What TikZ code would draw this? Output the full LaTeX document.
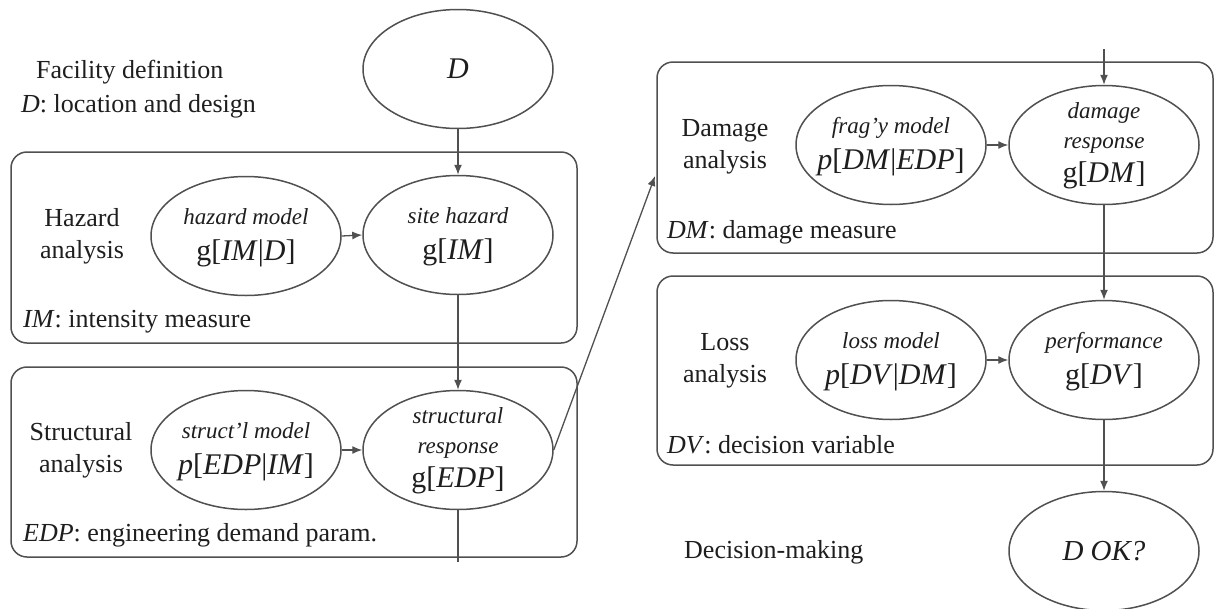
\documentclass[tikz,border=0pt]{standalone}
\usepackage{fontspec}
\setmainfont{Liberation Serif}
\usetikzlibrary{shapes.geometric,arrows.meta}
\definecolor{lineC}{RGB}{80,80,80}
\definecolor{textC}{RGB}{30,30,30}
\newcommand{\lblfont}{\fontsize{26}{32}\selectfont}
\newcommand{\itfont}{\fontsize{23}{29}\selectfont\itshape}
\newcommand{\bigfont}{\fontsize{30}{34}\selectfont\upshape}
\begin{document}
\begin{tikzpicture}[x=1pt,y=-1pt,
  stagebox/.style={draw=lineC, line width=1.5pt, rounded corners=16pt, inner sep=0pt},
  ell/.style={draw=lineC, ellipse, line width=1.5pt, minimum width=190pt, minimum height=119pt, inner sep=0pt},
  inlbl/.style={text=textC, align=center, inner sep=0pt, font=\fontsize{23}{36}\selectfont},
  inlblthree/.style={text=textC, align=center, inner sep=0pt, font=\fontsize{23}{30}\selectfont},
  lbl/.style={text=textC, font=\lblfont, inner sep=0pt},
  mlbl/.style={text=textC, font=\lblfont, align=center, inner sep=0pt},
  arr/.style={draw=lineC, line width=1.3pt, -{Latex[length=10pt,width=8pt]}},
  plain/.style={draw=lineC, line width=1.3pt}]
\useasboundingbox[fill=white] (0,0) rectangle (1215,608);

% stage boxes
\node[stagebox, minimum width=566pt, minimum height=191pt] (hazbox) at (294,247.5) {};
\node[stagebox, minimum width=566pt, minimum height=190pt] (strbox) at (294,462) {};
\node[stagebox, minimum width=556pt, minimum height=191pt] (dambox) at (935,157.5) {};
\node[stagebox, minimum width=556pt, minimum height=189pt] (losbox) at (935,370.5) {};

% ellipses
\node[ell] (D) at (458,69) {};
\node[inlbl, font=\fontsize{30}{34}\selectfont\itshape] (Dt) at (D.center) {D};

\node[ell] (hazmod) at (246,236) {};
\node[inlbl] (hazmodt) at (246,238) {{\itfont hazard model}\\{\bigfont g[\textit{IM}|\textit{D}]}};
\node[ell] (site) at (458,235) {};
\node[inlbl] (sitet) at (458,237) {{\itfont site hazard}\\{\bigfont g[\textit{IM}]}};

\node[ell] (strmod) at (246,450) {};
\node[inlbl] (strmodt) at (246,452) {{\itfont struct'l model}\\{\bigfont \textit{p}[\textit{EDP}|\textit{IM}]}};
\node[ell] (strres) at (458,450) {};
\node[inlblthree] (strrest) at (458,451) {{\itfont structural}\\{\itfont response}\\[4pt]{\bigfont g[\textit{EDP}]}};

\node[ell] (frag) at (891,145) {};
\node[inlbl] (fragt) at (891,147) {{\itfont frag'y model}\\{\bigfont \textit{p}[\textit{DM}|\textit{EDP}]}};
\node[ell] (damres) at (1104,145) {};
\node[inlblthree] (damrest) at (1104,146) {{\itfont damage}\\{\itfont response}\\[4pt]{\bigfont g[\textit{DM}]}};

\node[ell] (losmod) at (891,360) {};
\node[inlbl] (losmodt) at (891,362) {{\itfont loss model}\\{\bigfont \textit{p}[\textit{DV}|\textit{DM}]}};
\node[ell] (perf) at (1104,360) {};
\node[inlbl] (perft) at (1104,362) {{\itfont performance}\\{\bigfont g[\textit{DV}]}};

\node[ell] (dok) at (1104,551) {};
\node[inlbl, font=\fontsize{29}{34}\selectfont\itshape] (dokt) at (dok.center) {D OK?};

% side labels
\node[lbl, anchor=base west] (fac) at (36,78) {Facility definition};
\node[lbl, anchor=base west] (facd) at (21,112) {\textit{D}: location and design};
\node[mlbl] (hazl) at (82,236) {Hazard\\analysis};
\node[lbl, anchor=base west] (iml) at (23,327) {\textit{IM}: intensity measure};
\node[mlbl] (strl) at (81,450) {Structural\\analysis};
\node[lbl, anchor=base west] (edpl) at (23,541) {\textit{EDP}: engineering demand param.};
\node[mlbl] (daml) at (725,147) {Damage\\analysis};
\node[lbl, anchor=base west] (dml) at (667,238) {\textit{DM}: damage measure};
\node[mlbl] (losl) at (725,361) {Loss\\analysis};
\node[lbl, anchor=base west] (dvl) at (667,453) {\textit{DV}: decision variable};
\node[lbl, anchor=base west] (decl) at (684,558) {Decision-making};

% free ends
\coordinate (strout) at (458,562);
\coordinate (damin) at (655,176);
\coordinate (damtop) at (1104,49);

% connectors
\draw[arr] (D.south) -- (site.north);
\draw[arr] (hazmod.east) -- (site.west);
\draw[arr] (site.south) -- (strres.north);
\draw[arr] (strmod.east) -- (strres.west);
\draw[plain] (strres.south) -- (strout);
\draw[arr] (strres.east) -- (damin);
\draw[arr] (damtop) -- (damres.north);
\draw[arr] (frag.east) -- (damres.west);
\draw[arr] (damres.south) -- (perf.north);
\draw[arr] (losmod.east) -- (perf.west);
\draw[arr] (perf.south) -- (dok.north);
\end{tikzpicture}
\end{document}
